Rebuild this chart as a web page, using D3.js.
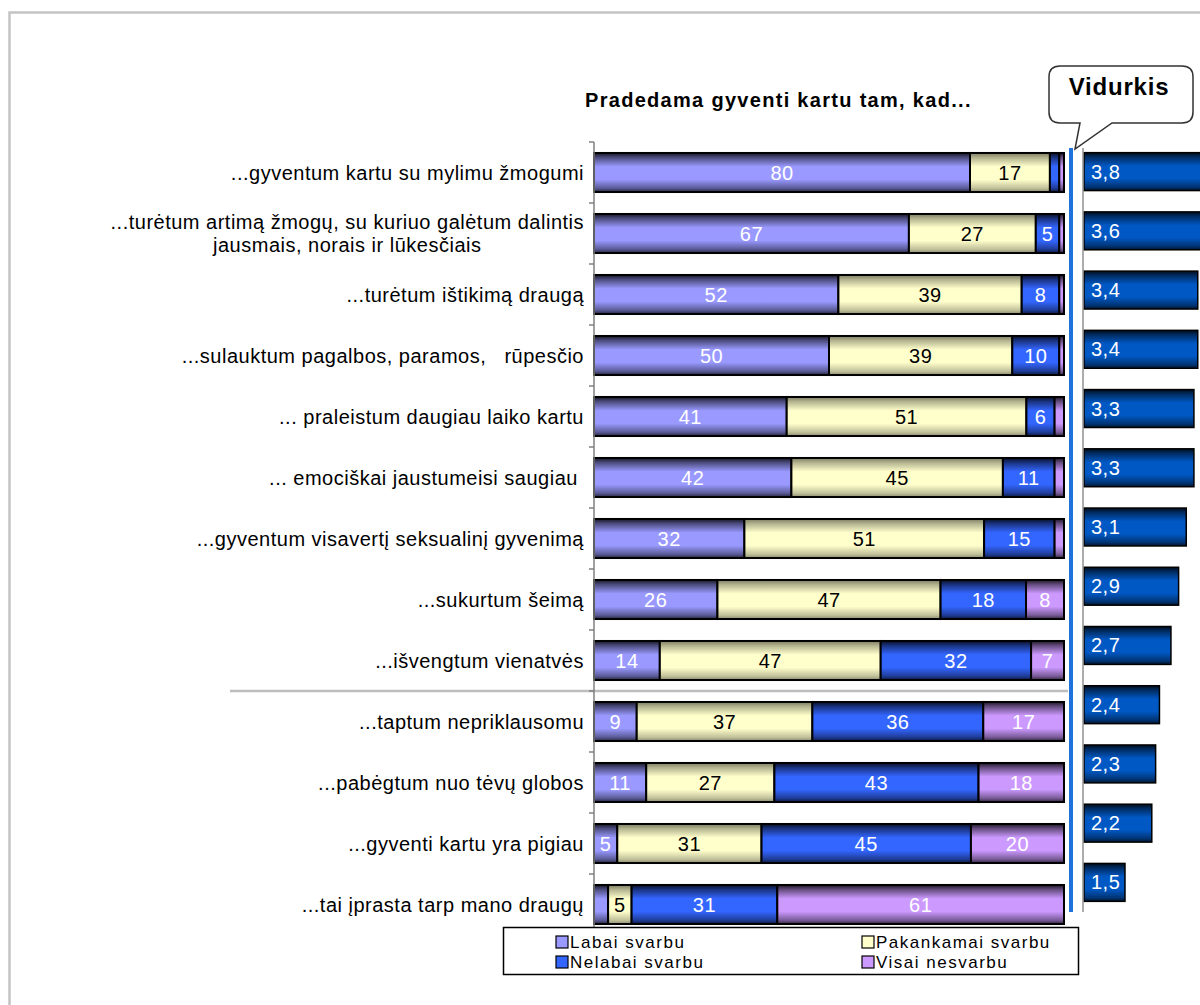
<!DOCTYPE html>
<html>
<head>
<meta charset="utf-8">
<script src="https://cdn.jsdelivr.net/npm/d3@7"></script>
<style>
  body { margin: 0; background: #fff; }
  svg { display: block; font-family: "Liberation Sans", Arial, sans-serif; }
  .cat { white-space: pre; letter-spacing: 0.5px; }
</style>
</head>
<body>
<svg id="chart" width="1200" height="1005"></svg>
<script>
// categories (a "\n" splits a label over two lines)
const categories = [
  "...gyventum kartu su mylimu žmogumi",
  "...turėtum artimą žmogų, su kuriuo galėtum dalintis\njausmais, norais ir lūkesčiais",
  "...turėtum ištikimą draugą",
  "...sulauktum pagalbos, paramos,   rūpesčio",
  "... praleistum daugiau laiko kartu",
  "... emociškai jaustumeisi saugiau ",
  "...gyventum visavertį seksualinį gyvenimą",
  "...sukurtum šeimą",
  "...išvengtum vienatvės",
  "...taptum nepriklausomu",
  "...pabėgtum nuo tėvų globos",
  "...gyventi kartu yra pigiau",
  "...tai įprasta tarp mano draugų"
];

// series, percent
const labaiSvarbu      = [80, 67, 52, 50, 41, 42, 32, 26, 14,  9, 11,  5,  3];
const pakankamaiSvarbu = [17, 27, 39, 39, 51, 45, 51, 47, 47, 37, 27, 31,  5];
const nelabaiSvarbu    = [ 2,  5,  8, 10,  6, 11, 15, 18, 32, 36, 43, 45, 31];
const visaiNesvarbu    = [ 1,  1,  1,  1,  2,  2,  2,  8,  7, 17, 18, 20, 61];

// mean score
const vidurkis = [3.8, 3.6, 3.4, 3.4, 3.3, 3.3, 3.1, 2.9, 2.7, 2.4, 2.3, 2.2, 1.5];

const seriesNames = ["Labai svarbu", "Pakankamai svarbu", "Nelabai svarbu", "Visai nesvarbu"];
const seriesValues = [labaiSvarbu, pakankamaiSvarbu, nelabaiSvarbu, visaiNesvarbu];

const colors = ["#9999FF", "#FFFFCC", "#3366FF", "#CC99FF"];
const labelColors = ["#ffffff", "#000000", "#ffffff", "#ffffff"];
const meanColor = "#0058C4";

const svg = d3.select("#chart");
const defs = svg.append("defs");

// shaded look of the bars: dark at the edges, flat in the middle
function addGradient(id, base, k) {
  const g = defs.append("linearGradient")
    .attr("id", id)
    .attr("x1", 0).attr("y1", 0).attr("x2", 0).attr("y2", 1);
  const dark = d3.interpolateRgb(base, "#000");
  [[0, dark(0.85 * k)], [0.12, dark(0.5 * k)], [0.35, base], [0.68, base], [0.9, dark(0.4 * k)], [1, dark(0.75 * k)]]
    .forEach(([o, c]) => {
      g.append("stop").attr("offset", o).attr("stop-color", c);
    });
}
colors.forEach((c, i) => addGradient("grad" + i, c, i === 1 ? 0.6 : 1));
addGradient("gradMean", meanColor, 1);

// outer frame
svg.append("rect")
  .attr("x", 9.5).attr("y", 12.5)
  .attr("width", 1200).attr("height", 1000)
  .attr("fill", "none")
  .attr("stroke", "#c4c4c4")
  .attr("stroke-width", 2.5);

// ---- left: 100% stacked bars ----
const rows = categories.map((c, i) => {
  const r = { cat: c };
  seriesNames.forEach((s, k) => { r[s] = seriesValues[k][i]; });
  return r;
});

const stack = d3.stack()
  .keys(seriesNames)
  .offset(d3.stackOffsetExpand);
const stacked = stack(rows);

const x = d3.scaleLinear().domain([0, 1]).range([594, 1064]);
const y = d3.scaleBand()
  .domain(categories)
  .range([142, 935])
  .paddingInner(0.36)
  .paddingOuter(0.18);

// title
svg.append("text")
  .attr("x", 585).attr("y", 107)
  .attr("font-size", 20).attr("font-weight", "bold")
  .attr("letter-spacing", 1.3)
  .text("Pradedama gyventi kartu tam, kad...");

// separator between the two groups of reasons
const sepY = (y(categories[8]) + y.bandwidth() + y(categories[9])) / 2;
svg.append("line")
  .attr("x1", 230).attr("x2", 1068)
  .attr("y1", sepY).attr("y2", sepY)
  .attr("stroke", "#bdbdbd").attr("stroke-width", 2.5);

const layers = svg.append("g").selectAll("g")
  .data(stacked)
  .join("g");

layers.selectAll("rect")
  .data((d, i) => d.map(p => ({ p, i })))
  .join("rect")
  .attr("x", d => x(d.p[0]))
  .attr("y", d => y(d.p.data.cat))
  .attr("width", d => Math.max(0, x(d.p[1]) - x(d.p[0])))
  .attr("height", y.bandwidth())
  .attr("fill", d => `url(#grad${d.i})`)
  .attr("stroke", "#000")
  .attr("stroke-width", 2);

layers.selectAll("text")
  .data((d, i) => d.map(p => ({ p, i, v: p.data[seriesNames[i]] })).filter(d => d.v >= 5))
  .join("text")
  .attr("x", d => (x(d.p[0]) + x(d.p[1])) / 2)
  .attr("y", d => y(d.p.data.cat) + y.bandwidth() / 2 + 7)
  .attr("text-anchor", "middle")
  .attr("font-size", 20)
  .attr("letter-spacing", 0.5)
  .attr("fill", d => labelColors[d.i])
  .text(d => d.v);

// category axis
const axisG = svg.append("g");
axisG.append("line")
  .attr("x1", 594).attr("x2", 594)
  .attr("y1", 142).attr("y2", 935)
  .attr("stroke", "#808080").attr("stroke-width", 1.5);
d3.range(categories.length + 1).forEach(k => {
  const ty = 142 + k * y.step();
  axisG.append("line")
    .attr("x1", 589).attr("x2", 594)
    .attr("y1", ty).attr("y2", ty)
    .attr("stroke", "#808080").attr("stroke-width", 1.5);
});

// category labels
categories.forEach(c => {
  const lines = c.split("\n");
  const cy = y(c) + y.bandwidth() / 2;
  const lh = 23;
  const g = svg.append("g");
  const texts = lines.map((ln, j) => g.append("text")
    .attr("class", "cat")
    .attr("y", cy + 7 + (j - (lines.length - 1) / 2) * lh)
    .attr("font-size", 20)
    .attr("fill", "#000")
    .text(ln));
  const maxW = d3.max(texts, t => t.node().getComputedTextLength());
  texts.forEach(t => t.attr("x", 584 - maxW / 2).attr("text-anchor", "middle"));
});

// ---- right: mean bars ----
const y2 = d3.scaleBand()
  .domain(categories)
  .range([142, 912])
  .paddingInner(0.36)
  .paddingOuter(0.18);
const xm = d3.scaleLinear().domain([0.43, 4]).range([1084, 1084 + 3.57 * 38.3]);

const meanG = svg.append("g");
meanG.selectAll("rect")
  .data(categories)
  .join("rect")
  .attr("x", xm(0.43))
  .attr("y", d => y2(d))
  .attr("width", (d, i) => xm(vidurkis[i]) - xm(0.43))
  .attr("height", y2.bandwidth())
  .attr("fill", "url(#gradMean)")
  .attr("stroke", "#000")
  .attr("stroke-width", 1.5);

meanG.selectAll("text")
  .data(categories)
  .join("text")
  .attr("x", xm(0.43) + 7)
  .attr("y", d => y2(d) + y2.bandwidth() / 2 + 7)
  .attr("font-size", 20)
  .attr("letter-spacing", 0.5)
  .attr("fill", "#ffffff")
  .text((d, i) => d3.format(".1f")(vidurkis[i]).replace(".", ","));

svg.append("line")
  .attr("x1", 1083).attr("x2", 1083)
  .attr("y1", 148).attr("y2", 912)
  .attr("stroke", "#909090").attr("stroke-width", 1.5);

// blue divider
svg.append("line")
  .attr("x1", 1071).attr("x2", 1071)
  .attr("y1", 148).attr("y2", 912)
  .attr("stroke", "#1E74DA").attr("stroke-width", 4);

// "Vidurkis" callout
svg.append("path")
  .attr("d", "M1060,66 H1182 Q1193,66 1193,77 V112 Q1193,123 1182,123 H1112 L1075,149 L1080,123 H1060 Q1049,123 1049,112 V77 Q1049,66 1060,66 Z")
  .attr("fill", "#fff")
  .attr("stroke", "#333")
  .attr("stroke-width", 1.5);
svg.append("text")
  .attr("x", 1119).attr("y", 95)
  .attr("text-anchor", "middle")
  .attr("font-size", 24).attr("font-weight", "bold")
  .attr("letter-spacing", 0.8)
  .text("Vidurkis");

// ---- legend ----
const legend = svg.append("g");
legend.append("rect")
  .attr("x", 503.5).attr("y", 927.5)
  .attr("width", 575).attr("height", 47)
  .attr("fill", "#fff")
  .attr("stroke", "#000").attr("stroke-width", 1.5);

seriesNames.forEach((s, i) => {
  const lx = i % 2 === 0 ? 556 : 862;
  const ly = i < 2 ? 942 : 962;
  legend.append("rect")
    .attr("x", lx).attr("y", ly - 6)
    .attr("width", 12).attr("height", 12)
    .attr("fill", colors[i])
    .attr("stroke", "#000").attr("stroke-width", 1.2);
  legend.append("text")
    .attr("x", lx + 14).attr("y", ly + 6)
    .attr("font-size", 17)
    .attr("letter-spacing", 1.5)
    .text(s);
});
</script>
</body>
</html>
